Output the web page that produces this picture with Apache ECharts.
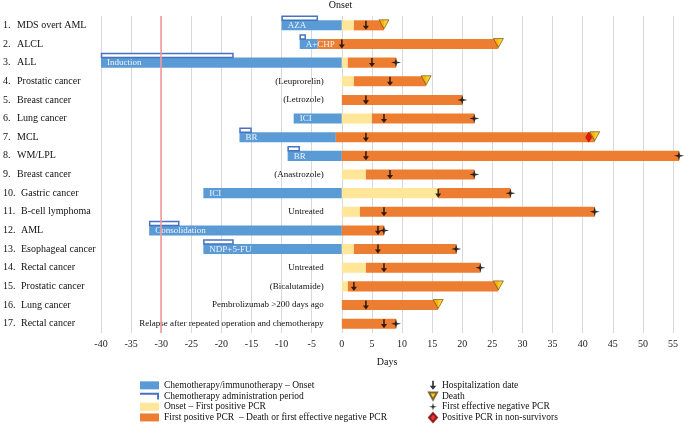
<!DOCTYPE html>
<html>
<head>
<meta charset="utf-8">
<script src="https://cdn.jsdelivr.net/npm/echarts@6/dist/echarts.min.js"></script>
<style>
html,body{margin:0;padding:0;background:#fff;}
#chart{width:685px;height:426px;}
</style>
</head>
<body>
<div id="chart"></div>
<script>
// ---------- DATA ----------
const categories = ['MDS overt AML','ALCL','ALL','Prostatic cancer','Breast cancer','Lung cancer','MCL','WM/LPL','Breast cancer','Gastric cancer','B-cell lymphoma','AML','Esophageal cancer','Rectal cancer','Prostatic cancer','Lung cancer','Rectal cancer'];
const xTicks = [-40,-35,-30,-25,-20,-15,-10,-5,0,5,10,15,20,25,30,35,40,45,50,55];
// Chemotherapy/immunotherapy – onset (blue bar)
const chemoStart = [-10,-7,-40,null,null,-8,-17,-9,null,-23,null,-32,-23,null,null,null,null];
const chemoEnd   = [0,-4,0,null,null,0,-1,0,null,0,null,0,0,null,null,null,null];
const chemoLabel = ['AZA','A+CHP','Induction','','','ICI','BR','BR','','ICI','','Consolidation','NDP+5-FU','','','',''];
// Chemotherapy administration period (bracket)
const adminStart = [-10,-7,-40,null,null,null,-17,-9,null,null,null,-32,-23,null,null,null,null];
const adminEnd   = [-4,-6,-18,null,null,null,-15,-7,null,null,null,-27,-18,null,null,null,null];
// Onset (day 0) – first positive PCR (yellow), first positive PCR – outcome (orange)
const onsetDay    = [0,0,0,0,0,0,0,0,0,0,0,0,0,0,0,0,0];
const firstPcrDay = [2,-4,1,2,0,5,-1,0,4,16,3,0,2,4,1,0,0];
const outcomeDay  = [7,26,9,14,20,22,42,56,22,28,42,7,19,23,26,16,9];
// Point events
const hospitalDay = [4,0,5,8,4,7,4,4,8,16,7,6,6,7,2,4,7];
const deathDay    = [7,26,null,14,null,null,42,null,null,null,null,null,null,null,26,16,null];
const negPcrDay   = [null,null,9,null,20,22,null,56,22,28,42,7,19,23,null,null,9];
const posPcrNonSurvivorDay = [null,null,null,null,null,null,41,null,null,null,null,null,null,null,null,null,null];
const notes = ['','','','(Leuprorelin)','(Letrozole)','','','','(Anastrozole)','','Untreated','','','Untreated','(Bicalutamide)','Pembrolizumab >200 days ago','Relapse after repeated operation and chemotherapy'];
const redLineDay = -30;

// ---------- STYLE ----------
const FONT = 'Liberation Serif, Times New Roman, serif';
const C_BLUE = '#5B9BD5', C_BRACKET = '#4472C4', C_YELLOW = '#FFE699', C_ORANGE = '#ED7D31';
const BAR_RATIO = 0.54;

const NAME_BLUE = 'Chemotherapy/immunotherapy – Onset';
const NAME_BRACKET = 'Chemotherapy administration period';
const NAME_YELLOW = 'Onset – First positive PCR';
const NAME_ORANGE = 'First positive PCR  – Death or first effective negative PCR';
const NAME_HOSP = 'Hospitalization date';
const NAME_DEATH = 'Death';
const NAME_NEG = 'First effective negative PCR';
const NAME_POS = 'Positive PCR in non-survivors';

const ARROW = 'path://M3,0 L5,0 L5,6 L8,6 L4,11 L0,6 L3,6 Z';
const TRI = 'path://M0,0 L10,0 L5,9 Z';
const STAR = 'path://M5,0 L6,4 L10,5 L6,6 L5,10 L4,6 L0,5 L4,4 Z';
const BRACKET_ICON = 'path://M0,0 L20,0 L20,7 L18,7 L18,2 L0,2 Z';

function segData(starts, ends) {
  const out = [];
  categories.forEach((c, i) => {
    if (starts[i] != null && ends[i] != null && ends[i] > starts[i]) out.push([starts[i], ends[i], i]);
  });
  return out;
}
function pointData(arr) {
  const out = [];
  arr.forEach((v, i) => { if (v != null) out.push([v, i]); });
  return out;
}
function barRender(color, withLabel) {
  return function (params, api) {
    const i = api.value(2);
    const s = api.coord([api.value(0), i]);
    const e = api.coord([api.value(1), i]);
    const h = api.size([0, 1])[1] * BAR_RATIO;
    const children = [{
      type: 'rect',
      shape: { x: s[0], y: s[1] - h / 2, width: e[0] - s[0], height: h },
      style: { fill: color }
    }];
    if (withLabel && chemoLabel[i]) {
      children.push({
        type: 'text', z2: 10,
        style: { text: chemoLabel[i], x: s[0] + 6, y: s[1] + 0.5, verticalAlign: 'middle', align: 'left',
                 fill: '#EEF3FA', font: '9px ' + FONT }
      });
    }
    return { type: 'group', children };
  };
}
function bracketRender(params, api) {
  const i = api.value(2);
  const s = api.coord([api.value(0), i]);
  const e = api.coord([api.value(1), i]);
  const h = api.size([0, 1])[1] * BAR_RATIO;
  const top = s[1] - h / 2;
  return {
    type: 'rect',
    shape: { x: s[0] + 0.5, y: top - 4, width: e[0] - s[0] - 1, height: 4 },
    style: { fill: '#fff', stroke: C_BRACKET, lineWidth: 1.5 }
  };
}
function notesRender(params, api) {
  const i = api.value(1);
  const p = api.coord([api.value(0), i]);
  return {
    type: 'text',
    style: { text: notes[i], x: p[0] - 18, y: p[1], align: 'right', verticalAlign: 'middle', fill: '#111', font: '9px ' + FONT }
  };
}

const chart = echarts.init(document.getElementById('chart'), null, { renderer: 'canvas' });
const legendText = { fontFamily: FONT, fontSize: 9.5, color: '#111', lineHeight: 10.7, padding: 0 };
const option = {
  animation: false,
  backgroundColor: '#fff',
  textStyle: { fontFamily: FONT },
  grid: { left: 100, right: 12, top: 16, bottom: 93, containLabel: false },
  xAxis: {
    type: 'value', min: -40, max: 55, interval: 5,
    name: 'Days', nameLocation: 'middle', nameGap: 24,
    nameTextStyle: { fontFamily: FONT, fontSize: 10, color: '#111' },
    axisLine: { show: false }, axisTick: { show: false },
    axisLabel: { fontFamily: FONT, fontSize: 10, color: '#222', margin: 6,
                 formatter: v => xTicks.indexOf(v) >= 0 ? String(v) : '' },
    splitLine: { show: true, lineStyle: { color: '#D9D9D9', width: 1 } }
  },
  yAxis: {
    type: 'category', data: categories, inverse: true,
    axisLine: { show: false }, axisTick: { show: false }, splitLine: { show: false },
    axisLabel: {
      align: 'left', margin: 98, color: '#111', fontFamily: FONT, fontSize: 10,
      formatter: (v, idx) => (idx < 9 ? '{a|' : '{b|') + (idx + 1) + '.}{t|' + v + '}',
      rich: {
        a: { width: 14, fontFamily: FONT, fontSize: 10, color: '#111' },
        b: { width: 18, fontFamily: FONT, fontSize: 10, color: '#111' },
        t: { fontFamily: FONT, fontSize: 10, color: '#111' }
      }
    }
  },
  legend: [
    {
      orient: 'vertical', left: 140, top: 380, height: 80, padding: 0, itemGap: 0, itemWidth: 19, itemHeight: 8,
      selectedMode: false, textStyle: legendText,
      data: [
        { name: NAME_BLUE, icon: 'rect' },
        { name: NAME_BRACKET, icon: BRACKET_ICON },
        { name: NAME_YELLOW, icon: 'rect' },
        { name: NAME_ORANGE, icon: 'rect' }
      ]
    },
    {
      orient: 'vertical', left: 428, top: 380, height: 80, padding: 0, itemGap: 0, itemWidth: 8, itemHeight: 9,
      selectedMode: false, textStyle: legendText,
      data: [
        { name: NAME_HOSP, icon: ARROW },
        { name: NAME_DEATH, icon: TRI },
        { name: NAME_NEG, icon: STAR },
        { name: NAME_POS, icon: 'diamond' }
      ]
    }
  ],
  series: [
    { name: NAME_BLUE, type: 'custom', renderItem: barRender(C_BLUE, false), itemStyle: { color: C_BLUE },
      encode: { x: [0, 1], y: 2 }, data: segData(chemoStart, chemoEnd) },
    { name: NAME_YELLOW, type: 'custom', renderItem: barRender(C_YELLOW, false), itemStyle: { color: C_YELLOW },
      encode: { x: [0, 1], y: 2 }, data: segData(onsetDay, firstPcrDay) },
    { name: NAME_ORANGE, type: 'custom', renderItem: barRender(C_ORANGE, false), itemStyle: { color: C_ORANGE },
      encode: { x: [0, 1], y: 2 }, data: segData(firstPcrDay, outcomeDay) },
    { name: NAME_BRACKET, type: 'custom', renderItem: bracketRender, itemStyle: { color: C_BRACKET },
      encode: { x: [0, 1], y: 2 }, data: segData(adminStart, adminEnd) },
    { name: 'chemoLabels', type: 'custom', renderItem: barRender('rgba(0,0,0,0)', true),
      encode: { x: [0, 1], y: 2 }, data: segData(chemoStart, chemoEnd), z: 3 },
    { name: 'notes', type: 'custom', renderItem: notesRender, encode: { x: 0, y: 1 },
      data: notes.map((n, i) => [onsetDay[i], i]).filter((d, i) => notes[i]) },
    { name: NAME_HOSP, type: 'scatter', symbol: ARROW, symbolSize: [6, 9], z: 4, clip: false,
      itemStyle: { color: '#000' }, data: pointData(hospitalDay) },
    { name: NAME_NEG, type: 'scatter', symbol: STAR, symbolSize: [10, 10], z: 4, clip: false,
      itemStyle: { color: '#000' }, data: pointData(negPcrDay) },
    { name: NAME_POS, type: 'scatter', symbol: 'diamond', symbolSize: [6, 10], z: 4, clip: false,
      itemStyle: { color: '#E00000', borderColor: '#700', borderWidth: 0.5 }, data: pointData(posPcrNonSurvivorDay) },
    { name: NAME_DEATH, type: 'scatter', symbol: TRI, symbolSize: [10, 9], symbolOffset: [0, -1], z: 4, clip: false,
      itemStyle: { color: '#FFC000', borderColor: '#5A4A10', borderWidth: 0.8 }, data: pointData(deathDay),
      markLine: {
        silent: true, symbol: 'none', z: 6,
        lineStyle: { color: '#F29B9B', width: 1.6, type: 'solid' },
        label: { show: false },
        data: [{ xAxis: redLineDay }]
      }
    }
  ]
};
chart.setOption(option);
const x0 = chart.convertToPixel({ xAxisIndex: 0 }, 0);
chart.setOption({
  graphic: [{ type: 'text', left: x0 - 13, top: 0,
    style: { text: 'Onset', font: '10px ' + FONT, fill: '#111' } }]
});
</script>
</body>
</html>
